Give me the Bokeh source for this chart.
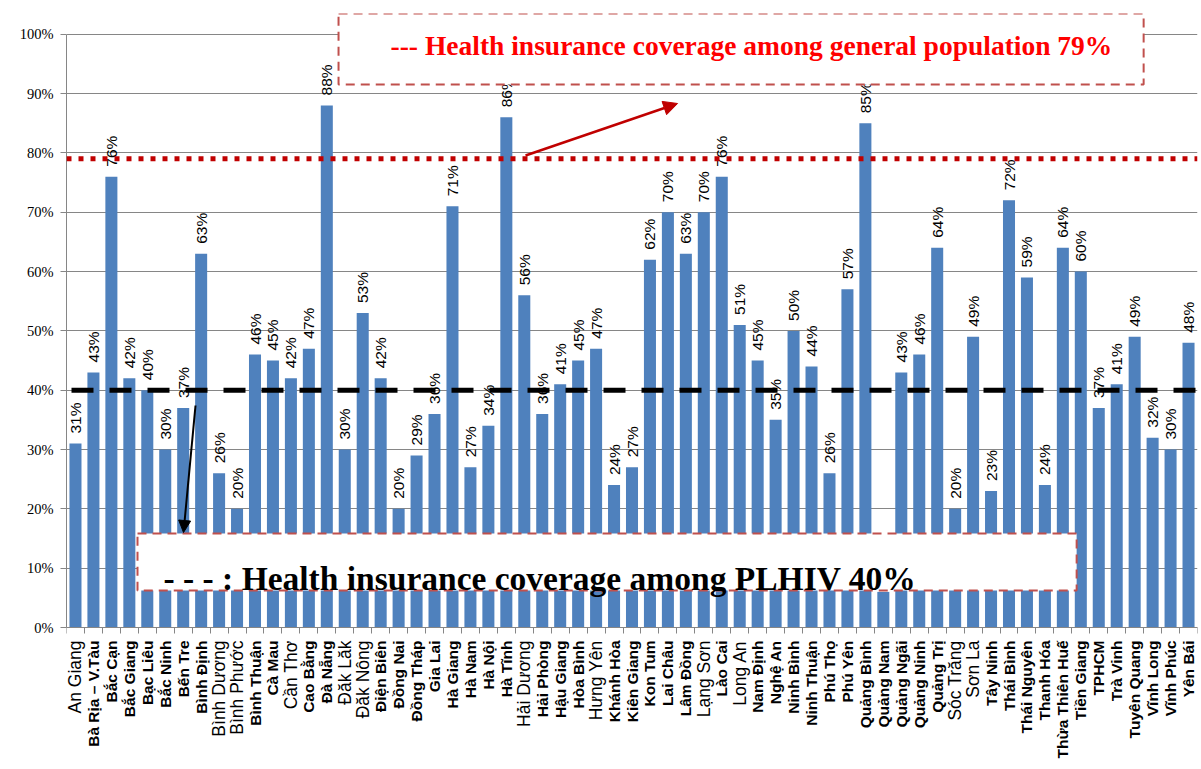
from math import pi
from bokeh.plotting import figure
from bokeh.models import (ColumnDataSource, Span, BoxAnnotation, Label,
                          Arrow, NormalHead, FixedTicker, NumeralTickFormatter, Range1d)
from bokeh.core.properties import value, field
from bokeh.embed import file_html
from bokeh.resources import INLINE

# ---------------- data ----------------
provinces = [
    "An Giang", "Bà Rịa – V.Tàu", "Bắc Cạn", "Bắc Giang", "Bạc Liêu", "Bắc Ninh", "Bến Tre",
    "Bình Định", "Bình Dương", "Bình Phước", "Bình Thuận", "Cà Mau", "Cần Thơ", "Cao Bằng",
    "Đà Nẵng", "Đăk Lăk", "Đăk Nông", "Điện Biên", "Đồng Nai", "Đồng Tháp", "Gia Lai",
    "Hà Giang", "Hà Nam", "Hà Nội", "Hà Tĩnh", "Hải Dương", "Hải Phòng", "Hậu Giang",
    "Hòa Bình", "Hưng Yên", "Khánh Hòa", "Kiên Giang", "Kon Tum", "Lai Châu", "Lâm Đồng",
    "Lạng Sơn", "Lào Cai", "Long An", "Nam Định", "Nghệ An", "Ninh Bình", "Ninh Thuận",
    "Phú Thọ", "Phú Yên", "Quảng Bình", "Quảng Nam", "Quảng Ngãi", "Quảng Ninh", "Quảng Trị",
    "Sóc Trăng", "Sơn La", "Tây Ninh", "Thái Bình", "Thái Nguyên", "Thanh Hóa",
    "Thừa Thiên Huế", "Tiền Giang", "TPHCM", "Trà Vinh", "Tuyên Quang", "Vĩnh Long",
    "Vĩnh Phúc", "Yên Bái",
]
coverage_pct = [
    31, 43, 76, 42, 40, 30, 37,
    63, 26, 20, 46, 45, 42, 47,
    88, 30, 53, 42, 20, 29, 36,
    71, 27, 34, 86, 56, 36, 41,
    45, 47, 24, 27, 62, 70, 63,
    70, 76, 51, 45, 35, 50, 44,
    26, 57, 85, 6, 43, 46, 64,
    20, 49, 23, 72, 59, 24,
    64, 60, 37, 41, 49, 32,
    30, 48,
]
general_population_pct = 79
plhiv_pct = 40
y_ticks_pct = [0, 10, 20, 30, 40, 50, 60, 70, 80, 90, 100]

# category labels that the original draws in a regular (non-bold) face
regular_labels = {"An Giang", "Bình Dương", "Bình Phước", "Cần Thơ", "Đăk Lăk", "Đăk Nông",
                  "Hải Dương", "Hưng Yên", "Lạng Sơn", "Long An", "Sóc Trăng", "Sơn La"}

# ---------------- layout constants ----------------
W, H = 1201, 769
FRAME_TOP_PX, ZERO_PX = 13, 627          # canvas rows of frame top and of the 0% line
Y_END = 1.035
px_per_unit = (ZERO_PX - FRAME_TOP_PX) / Y_END
Y_START = -(H - ZERO_PX) / px_per_unit   # frame reaches the canvas bottom; axis sits at 0

n = len(provinces)
xs = list(range(1, n + 1))
tops = [v / 100 for v in coverage_pct]
src = ColumnDataSource(dict(x=xs, top=tops, lbl=[f"{v}%" for v in coverage_pct]))
is_regular = [s in regular_labels for s in provinces]
cat_src = ColumnDataSource(dict(
    x=xs, y=[0] * n, text=provinces,
    style=["normal" if r else "bold" for r in is_regular],
    size=["17.5px" if r else "15.5px" for r in is_regular]))

p = figure(width=W, height=H, x_range=Range1d(0.5, n + 0.5), y_range=Range1d(Y_START, Y_END),
           output_backend="svg", toolbar_location=None,
           min_border_left=66, min_border_right=4, min_border_top=FRAME_TOP_PX, min_border_bottom=0)
p.outline_line_color = None
p.background_fill_color = "white"
p.border_fill_color = "white"

p.vbar(x="x", bottom=0, top="top", width=0.67, source=src, fill_color="#4f81bd", line_color=None)

# value labels
p.text(x="x", y="top", text="lbl", source=src, angle=pi / 2, text_align="left",
       text_baseline="middle", y_offset=-10, text_font=value("Liberation Sans"),
       text_font_size="15.5px", text_color="black")

# category labels (mixed faces, as in the original)
p.text(x="x", y="y", text="text", source=cat_src, angle=pi / 2, text_align="right",
       text_baseline="middle", y_offset=13, text_font=value("Liberation Sans"),
       text_font_size=field("size"), text_font_style=field("style"), text_color="black")

# axes
grey = "#868686"
p.xaxis.fixed_location = 0
p.xaxis.ticker = FixedTicker(ticks=[], minor_ticks=[i + 0.5 for i in range(0, n + 1)])
p.xaxis.major_tick_out = 0
p.xaxis.major_tick_in = 0
p.xaxis.minor_tick_out = 6
p.xaxis.minor_tick_in = 0
p.xaxis.axis_line_color = grey
p.xaxis.minor_tick_line_color = grey
p.xgrid.grid_line_color = None

yt = [t / 100 for t in y_ticks_pct]
p.yaxis.ticker = FixedTicker(ticks=yt)
p.yaxis.bounds = (0, 1)
p.yaxis.formatter = NumeralTickFormatter(format="0%")
p.yaxis.major_label_text_font = "Liberation Serif"
p.yaxis.major_label_text_font_size = "14.5px"
p.yaxis.major_label_text_color = "black"
p.yaxis.major_tick_out = 6
p.yaxis.major_tick_in = 0
p.yaxis.minor_tick_out = 0
p.yaxis.major_label_standoff = 7
p.yaxis.axis_line_color = grey
p.yaxis.major_tick_line_color = grey
p.ygrid.ticker = FixedTicker(ticks=yt)
p.ygrid.grid_line_color = grey
p.ygrid.grid_line_width = 1

# reference lines
p.add_layout(Span(location=general_population_pct / 100, dimension="width",
                  line_color="#c00000", line_width=5, line_dash="5 7"))
p.add_layout(Span(location=plhiv_pct / 100, dimension="width",
                  line_color="black", line_width=5, line_dash="22 16", line_dash_offset=-5))

# annotation boxes
def px_to_x(px):
    return 0.5 + (px - 66) / 17.95

def py_to_y(py):
    return (ZERO_PX - py) / px_per_unit

p.add_layout(BoxAnnotation(left=px_to_x(338), right=px_to_x(1143), bottom=py_to_y(84), top=Y_END,
                           fill_color="white", fill_alpha=1, line_color="#c0504d", line_alpha=1,
                           line_width=2, line_dash="9 6"))
p.add_layout(Label(x=px_to_x(390), y=py_to_y(45),
                   text=f"--- Health insurance coverage among general population {general_population_pct}%",
                   text_font="Liberation Serif", text_font_style="bold", text_font_size="27.5px",
                   text_color="#ff0000", text_baseline="middle", text_align="left"))

p.add_layout(BoxAnnotation(left=px_to_x(137), right=px_to_x(1076), bottom=py_to_y(590), top=py_to_y(533),
                           fill_color="white", fill_alpha=1, line_color="#c0504d", line_alpha=1,
                           line_width=2, line_dash="9 6"))
p.add_layout(Label(x=px_to_x(163), y=py_to_y(578),
                   text=f"- - - :  Health insurance coverage among PLHIV {plhiv_pct}%",
                   text_font="Liberation Serif", text_font_style="bold", text_font_size="33.5px",
                   text_color="black", text_baseline="alphabetic", text_align="left"))

# arrows
p.add_layout(Arrow(end=NormalHead(size=14, fill_color="#c00000", line_color="#c00000"),
                   x_start=px_to_x(525), y_start=py_to_y(155), x_end=px_to_x(677), y_end=py_to_y(103),
                   line_color="#c00000", line_width=2.5))
p.add_layout(Arrow(end=NormalHead(size=12, fill_color="black", line_color="black"),
                   x_start=px_to_x(195), y_start=py_to_y(405), x_end=px_to_x(183), y_end=py_to_y(532),
                   line_color="black", line_width=2))

open("out.html", "w").write(file_html(p, INLINE))
